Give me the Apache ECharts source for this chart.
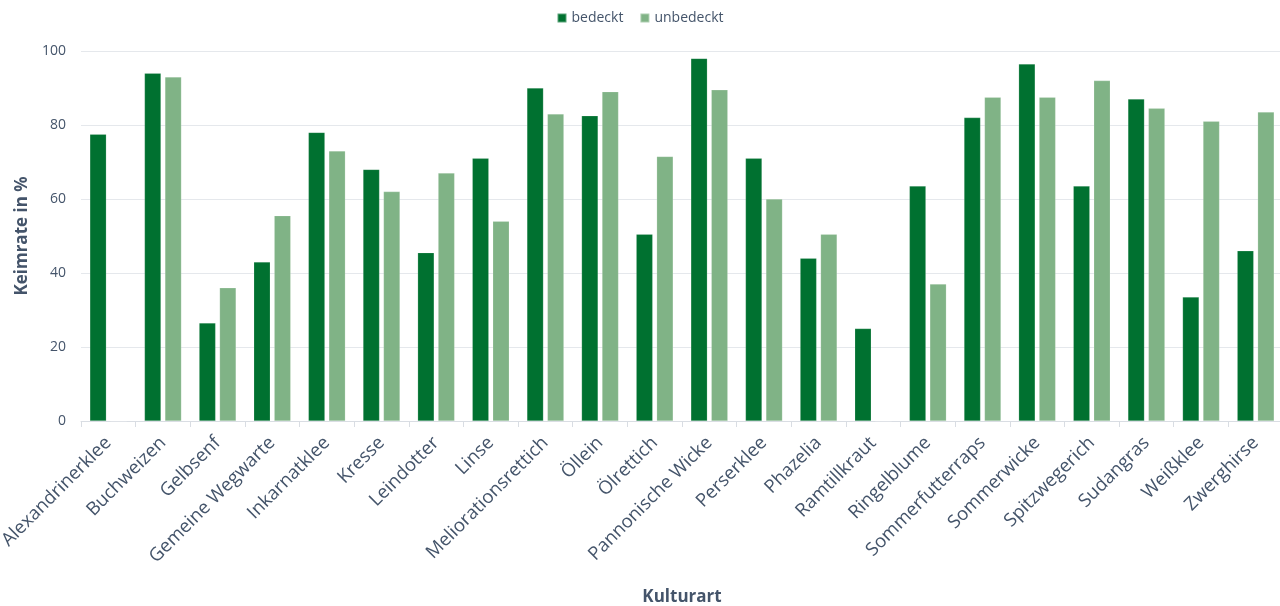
<!DOCTYPE html>
<html>
<head>
<meta charset="utf-8">
<script src="https://cdn.jsdelivr.net/npm/echarts@6/dist/echarts.min.js"></script>
<style>
html,body{margin:0;padding:0;background:#fff;}
#chart{width:1280px;height:606px;}
</style>
</head>
<body>
<div id="chart"></div>
<script>
const categories = ["Alexandrinerklee","Buchweizen","Gelbsenf","Gemeine Wegwarte","Inkarnatklee","Kresse","Leindotter","Linse","Meliorationsrettich","Öllein","Ölrettich","Pannonische Wicke","Perserklee","Phazelia","Ramtillkraut","Ringelblume","Sommerfutterraps","Sommerwicke","Spitzwegerich","Sudangras","Weißklee","Zwerghirse"];
const bedeckt = [77.5,94,26.5,43,78,68,45.5,71,90,82.5,50.5,98,71,44,25,63.5,82,96.5,63.5,87,33.5,46];
const unbedeckt = [0,93,36,55.5,73,62,67,54,83,89,71.5,89.5,60,50.5,0,37,87.5,87.5,92,84.5,81,83.5];
const yTicks = {min:0, max:100, interval:20};

const txt = '#44546A';
const chart = echarts.init(document.getElementById('chart'));
chart.setOption({
  animation:false,
  textStyle:{fontFamily:'"Open Sans", sans-serif'},
  legend:{
    top:6, left:'center', itemWidth:9, itemHeight:9, itemGap:16,
    icon:'rect',
    textStyle:{color:txt, fontSize:14, fontFamily:'"Open Sans", sans-serif'},
    data:['bedeckt','unbedeckt']
  },
  grid:{left:81, right:-3, top:51, bottom:185, containLabel:false, outerBoundsMode:'none'},
  xAxis:{
    type:'category', data:categories,
    name:'Kulturart', nameLocation:'middle', nameGap:168,
    nameTextStyle:{color:txt, fontSize:17, fontWeight:'bold'},
    axisLine:{lineStyle:{color:'#D9DDE3', width:1}},
    axisTick:{show:true, length:6, lineStyle:{color:'#D9DDE3'}},
    axisLabel:{rotate:45, color:txt, fontSize:18.5, margin:19, interval:0}
  },
  yAxis:{
    type:'value', min:yTicks.min, max:yTicks.max, interval:yTicks.interval,
    name:'Keimrate in %', nameLocation:'middle', nameGap:44,
    nameTextStyle:{color:txt, fontSize:17, fontWeight:'bold'},
    axisLine:{show:false}, axisTick:{show:false},
    axisLabel:{color:txt, fontSize:14, margin:15},
    splitLine:{lineStyle:{color:'#E5E8EC', width:1}}
  },
  series:[
    {name:'bedeckt', type:'bar', data:bedeckt, barWidth:16.5, barGap:'24%',
     itemStyle:{color:'#007130', borderColor:'rgba(255,255,255,0.35)', borderWidth:0.5}},
    {name:'unbedeckt', type:'bar', data:unbedeckt, barWidth:16.5, barGap:'24%',
     itemStyle:{color:'#80B386', borderColor:'rgba(255,255,255,0.35)', borderWidth:0.5}}
  ]
});
</script>
</body>
</html>
